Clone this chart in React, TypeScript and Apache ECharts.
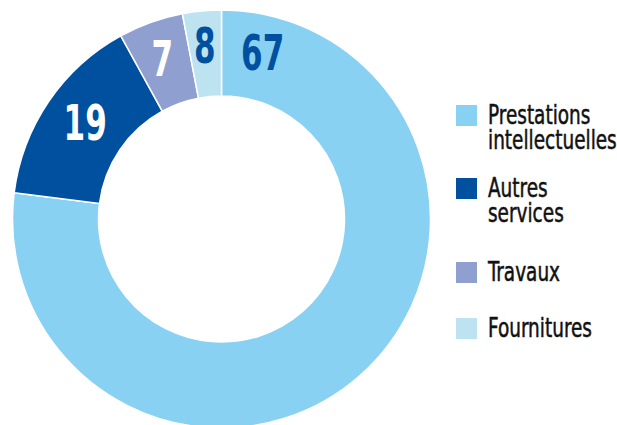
import React, { useEffect, useRef } from 'react';
import * as echarts from 'echarts';

// ---- data ----
const categories = ['Prestations intellectuelles', 'Autres services', 'Travaux', 'Fournitures'];
const legendLabels = ['Prestations\nintellectuelles', 'Autres\nservices', 'Travaux', 'Fournitures'];
const sliceShares = [77, 15, 5, 3];
const labelValues = [67, 19, 7, 8];
const colors = ['#89D1F3', '#0050A0', '#8F9FCF', '#BDE2F0'];
const labelColors = ['#0050A0', '#FFFFFF', '#FFFFFF', '#0050A0'];

// ---- layout ----
const CX = 221.5;
const CY = 219;
const R0 = 123;
const R1 = 209;
const LEGEND_X = 456;
const LEGEND_TEXT_X = 488;
const legendTops = [105, 178, 262, 318];
const LEGEND_FONT_SIZE = 26;
const LEGEND_LINE = 25;
const LEGEND_SCALE = 0.79;
const LABEL_FONT_SIZE = 50;
const LABEL_SCALE = 0.69;
const labelNudges: Array<[number, number]> = [[0, -2], [1, -3], [-3, -4], [-1, -8]];
const FONT = "'DejaVu Sans Condensed', 'DejaVu Sans', sans-serif";

function buildLabels() {
  const total = sliceShares.reduce((a, b) => a + b, 0);
  let acc = 0;
  const rMid = (R0 + R1) / 2;
  return sliceShares.map((v, i) => {
    const start = (acc / total) * 360;
    acc += v;
    const end = (acc / total) * 360;
    let ang: number;
    let r = rMid;
    if (i === 0) {
      // the large slice's value sits near its start, at the top
      ang = start + 14;
      r = 170;
    } else {
      ang = (start + end) / 2;
    }
    const rad = (ang * Math.PI) / 180;
    const x = CX + r * Math.sin(rad) + labelNudges[i][0];
    const y = CY - r * Math.cos(rad) + labelNudges[i][1];
    return {
      type: 'text',
      x,
      y,
      z: 100,
      zlevel: 0,
      scaleX: LABEL_SCALE,
      silent: true,
      style: {
        text: String(labelValues[i]),
        fontFamily: FONT,
        fontWeight: 'bold',
        fontSize: LABEL_FONT_SIZE,
        fill: labelColors[i],
        align: 'center',
        verticalAlign: 'middle',
      },
    };
  });
}

function buildLegend() {
  const els: any[] = [];
  categories.forEach((_, i) => {
    els.push({
      type: 'rect',
      z: 100,
      shape: { x: LEGEND_X, y: legendTops[i], width: 21, height: 21 },
      style: { fill: colors[i] },
      silent: true,
    });
    els.push({
      type: 'text',
      z: 100,
      x: LEGEND_TEXT_X,
      y: legendTops[i] + 10.5 - LEGEND_LINE / 2,
      scaleX: LEGEND_SCALE,
      silent: true,
      style: {
        text: legendLabels[i],
        fontFamily: FONT,
        fontSize: LEGEND_FONT_SIZE,
        lineHeight: LEGEND_LINE,
        fill: '#111111',
        stroke: '#111111',
        lineWidth: 0.5,
        align: 'left',
        verticalAlign: 'top',
      },
    });
  });
  return els;
}

export default function App() {
  const ref = useRef<HTMLDivElement>(null);
  useEffect(() => {
    if (!ref.current) return;
    const chart = echarts.init(ref.current, null, { renderer: 'svg' });
    const option: any = {
      animation: false,
      backgroundColor: '#ffffff',
      series: [
        {
          type: 'pie',
          z: 1,
          center: [CX, CY],
          radius: [R0, R1],
          startAngle: 90,
          clockwise: true,
          avoidLabelOverlap: false,
          itemStyle: { borderColor: '#ffffff', borderWidth: 1.5 },
          emphasis: { disabled: true },
          label: { show: false },
          labelLine: { show: false },
          data: categories.map((name, i) => ({
            name,
            value: sliceShares[i],
            itemStyle: { color: colors[i] },
          })),
        },
      ],
      graphic: { elements: [...buildLabels(), ...buildLegend()] },
    };
    chart.setOption(option);
    return () => chart.dispose();
  }, []);
  return (
    <div
      ref={ref}
      style={{ position: 'fixed', left: 0, top: 0, width: 617, height: 425 }}
    />
  );
}
